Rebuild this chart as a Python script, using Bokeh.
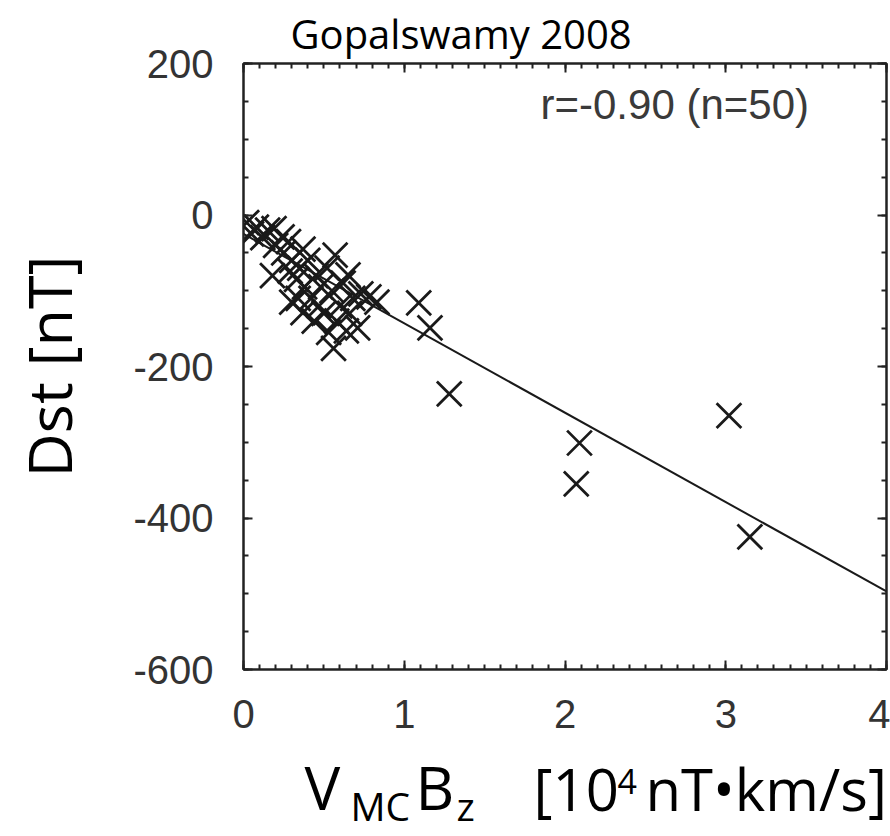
from bokeh.plotting import figure
from bokeh.models import Label, LinearAxis, SingleIntervalTicker, Range1d, ColumnDataSource
from bokeh.layouts import column
from bokeh.embed import file_html
from bokeh.resources import INLINE

# ---- data ----
vmc_bz = [0.02, 0.08, 0.15, 0.19, 0.24, 0.29, 0.37, 0.37, 0.57, 0.65,
          0.73, 0.78, 0.83, 0.56, 0.64, 0.71, 0.05, 0.12, 0.20, 0.25,
          0.28, 0.30, 0.33, 0.35, 0.38, 0.40, 0.42, 0.45, 0.47, 0.48,
          0.50, 0.52, 0.55, 0.58, 0.60, 0.62, 0.66, 0.68, 0.44, 0.34,
          0.30, 0.18, 0.53,
          1.09, 1.16, 1.28, 2.09, 2.07, 3.02, 3.15]
dst = [-10, -16, -20, -18, -29, -74, -45, -129, -53, -79,
       -104, -108, -115, -176, -153, -149, -25, -30, -40, -50,
       -35, -60, -85, -70, -95, -60, -110, -80, -120, -95,
       -130, -70, -100, -140, -120, -90, -130, -110, -140, -110,
       -115, -80, -155,
       -116, -149, -236, -301, -355, -265, -425]
fit_slope = -118.0
fit_intercept = -25.0
fit_x = [0.0, 4.0]
y_tick_values = [200, 0, -200, -400, -600]
y_tick_labels = ["200", "0", "-200", "-400", "-600"]
title_text = "Gopalswamy 2008"
y_title = "Dst [nT]"
r_text = "r=-0.90 (n=50)"

# ---- layout constants ----
W = 890
H_MAIN = 748
H_XT = 836 - H_MAIN
FL, FR, FT = 243, 4, 63
FRAME_H = 606
FB = H_MAIN - FT - FRAME_H
X0, X1, Y0, Y1 = 0, 4, -600, 200
BASE_SHIFT = 0.47   # empirical alphabetic-baseline correction (em)

def plab(fig, text, x, page_y, size_px, page_top, h, font="Open Sans", color="#000000"):
    y = (page_top + h) - (page_y - BASE_SHIFT * size_px)
    fig.add_layout(Label(x=x, y=y, text=text, text_font=font,
                         text_font_size=f"{size_px}px", text_color=color,
                         text_align="left", text_baseline="alphabetic"))

# ---- main plot ----
p = figure(width=W, height=H_MAIN, output_backend="svg", toolbar_location=None,
           x_range=Range1d(X0, X1), y_range=Range1d(Y0, Y1),
           min_border_left=FL, min_border_right=FR,
           min_border_top=FT, min_border_bottom=FB,
           x_axis_location=None, y_axis_location=None)
p.frame_align = False
p.grid.visible = False
p.outline_line_color = "#222222"
p.outline_line_width = 2

p.title.text = title_text
p.title.text_font = "Open Sans"
p.title.text_font_size = "40px"
p.title.text_font_style = "normal"
p.title.text_color = "#000000"
p.title.align = "left"
p.title.vertical_align = "top"
p.title.offset = 47
p.title.standoff = 2

def style_axis(ax, labels=True):
    ax.axis_line_color = "#222222"
    ax.axis_line_width = 2
    ax.major_tick_in = 9
    ax.major_tick_out = 0
    ax.minor_tick_in = 5
    ax.minor_tick_out = 0
    ax.major_tick_line_color = "#222222"
    ax.minor_tick_line_color = "#222222"
    ax.major_tick_line_width = 2
    ax.minor_tick_line_width = 2
    if labels:
        ax.major_label_text_font = "Liberation Sans"
        ax.major_label_text_font_size = "40px"
        ax.major_label_text_color = "#333333"
        ax.major_label_standoff = 30
    else:
        ax.major_label_text_font_size = "0px"
        ax.major_label_standoff = 0
        ax.major_label_text_color = None

xt = SingleIntervalTicker(interval=1, num_minor_ticks=10)
yt = SingleIntervalTicker(interval=200, num_minor_ticks=4)

bottom = LinearAxis(ticker=xt); style_axis(bottom)
left = LinearAxis(ticker=yt); style_axis(left)
left.major_label_overrides = dict(zip(y_tick_values, y_tick_labels))
left.axis_label = y_title
left.axis_label_text_font = "Open Sans"
left.axis_label_text_font_size = "61px"
left.axis_label_text_font_style = "normal"
left.axis_label_text_color = "#000000"
left.axis_label_standoff = 40
top = LinearAxis(ticker=xt); style_axis(top, labels=False)
right = LinearAxis(ticker=yt); style_axis(right, labels=False)
p.add_layout(bottom, "below")
p.add_layout(left, "left")
p.add_layout(top, "above")
p.add_layout(right, "right")

src = ColumnDataSource(dict(x=vmc_bz, y=dst))
p.scatter("x", "y", source=src, marker="x", size=35,
          line_color="#1a1a1a", line_width=2.8)

fit_y = [fit_intercept + fit_slope * v for v in fit_x]
p.line(fit_x, fit_y, line_color="#1a1a1a", line_width=2)

FRAME_W = W - FL - FR
def px(page_x):
    return X0 + (page_x - FL) / FRAME_W * (X1 - X0)
def py(page_y):
    return Y0 + ((FT + FRAME_H) - page_y) / FRAME_H * (Y1 - Y0)

p.add_layout(Label(x=px(540), y=py(124 - BASE_SHIFT * 42), text=r_text,
                   text_font="Liberation Sans", text_font_size="42px",
                   text_color="#3a3a3a", text_align="left",
                   text_baseline="alphabetic"))

# ---- x axis title panel (with sub/superscripts) ----
q = figure(width=W, height=H_XT, output_backend="svg", toolbar_location=None,
           x_range=Range1d(0, W), y_range=Range1d(0, H_XT),
           min_border=0, x_axis_location=None, y_axis_location=None,
           title_location=None)
q.frame_align = False
q.grid.visible = False
q.outline_line_color = None

QT = H_MAIN
plab(q, "V", 304, 815, 60, QT, H_XT)
plab(q, "MC", 350, 823, 39, QT, H_XT)
plab(q, "B", 415, 815, 60, QT, H_XT)
plab(q, "z", 456, 823, 39, QT, H_XT)
plab(q, "[10", 533, 815, 58, QT, H_XT)
plab(q, "4", 617, 797, 34, QT, H_XT)
plab(q, "nT\u2022km/s]", 645, 815, 58, QT, H_XT)

open("out.html", "w").write(file_html(column(p, q, spacing=0), INLINE))
